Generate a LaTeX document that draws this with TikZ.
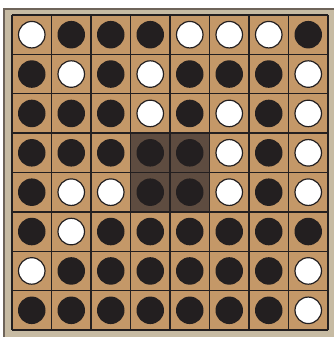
\documentclass[tikz,border=0pt]{standalone}
\definecolor{frame}{RGB}{199,187,163}
\definecolor{frameline}{RGB}{110,100,90}
\definecolor{cell}{RGB}{196,152,104}
\definecolor{center}{RGB}{94,76,64}
\definecolor{piece}{RGB}{35,31,32}
\tikzset{
  blackpiece/.style={circle,fill=piece,draw=none,minimum size=27.5pt,inner sep=0pt},
  whitepiece/.style={circle,fill=white,draw=piece,line width=1.2pt,minimum size=26.5pt,inner sep=0pt},
  gridline/.style={draw=piece,line width=1.4pt}
}
\begin{document}
\begin{tikzpicture}[x=1pt,y=1pt]
\useasboundingbox (0,0) rectangle (333,-337);
\fill[frame] (4,-9) rectangle (345,-350);
\draw[frameline,line width=1.2pt] (4,-350) -- (4,-9) -- (345,-9);
\fill[cell] (12,-15) rectangle (328,-330);
\fill[center] (12+3*39.5,-15-3*39.375) rectangle (12+5*39.5,-15-5*39.375);
\foreach \i in {0,...,8}{
  \draw[gridline] (12+\i*39.5,-15) -- (12+\i*39.5,-330);
  \draw[gridline] (12,-15-\i*39.375) -- (328,-15-\i*39.375);
}
\foreach \row/\pieces in {1/{W,B,B,B,W,W,W,B},2/{B,W,B,W,B,B,B,W},3/{B,B,B,W,B,W,B,W},4/{B,B,B,B,B,W,B,W},5/{B,W,W,B,B,W,B,W},6/{B,W,B,B,B,B,B,B},7/{W,B,B,B,B,B,B,W},8/{B,B,B,B,B,B,B,W}}{
  \foreach \p [count=\col] in \pieces {
    \if\p W
      \node[whitepiece] (p\row\col) at (12+\col*39.5-19.75,-15-\row*39.375+19.69) {};
    \else
      \node[blackpiece] (p\row\col) at (12+\col*39.5-19.75,-15-\row*39.375+19.69) {};
    \fi
  }
}
\end{tikzpicture}
\end{document}
